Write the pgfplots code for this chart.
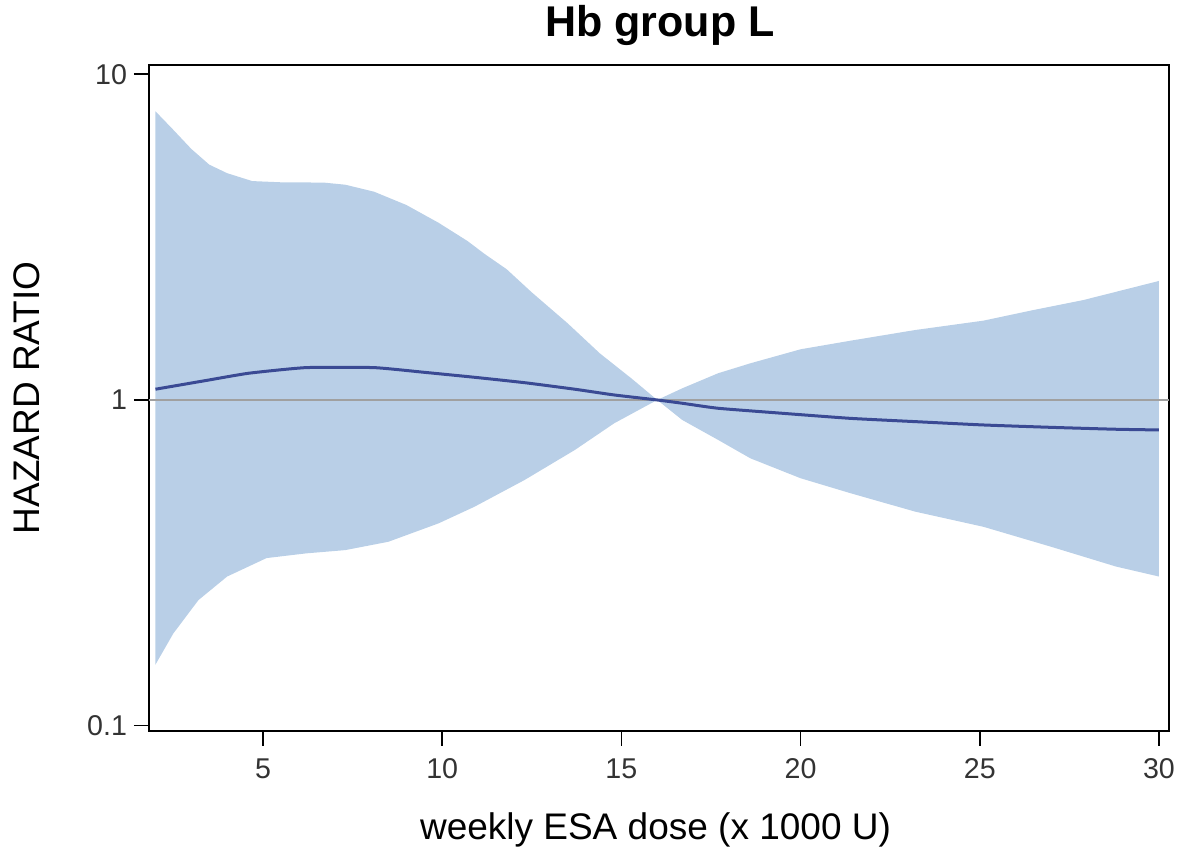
\documentclass[border=0pt]{standalone}
\usepackage{fontspec}
\setmainfont{Liberation Sans}
\usepackage{pgfplots}
\pgfplotsset{compat=1.18}
\usepgfplotslibrary{fillbetween}
\definecolor{bandcol}{HTML}{B9CFE7}
\definecolor{linecol}{HTML}{3A4A94}
\definecolor{refcol}{HTML}{A0A0A0}
\begin{document}
\begin{tikzpicture}
\begin{axis}[
  at={(0,0)}, anchor=south west,
  scale only axis, width=510pt, height=333pt,
  ymode=log,
  xmin=1.82, xmax=30.28, ymin=0.0963, ymax=10.68,
  xtick={5,10,15,20,25,30},
  ytick={0.1,1,10}, yticklabels={0.1,1,10},
  yminorticks=false,
  xtick pos=bottom, ytick pos=left,
  tick align=outside,
  major tick length=7.5pt,
  tick style={black, line width=0.8pt},
  axis line style={black, line width=0.8pt},
  /pgf/number format/assume math mode=true,
  tick label style={font=\fontsize{14.3}{17}\selectfont, text=black!80},
  xticklabel style={inner xsep=0pt, yshift=-3pt},
  label style={font=\fontsize{18.5}{22}\selectfont, inner sep=0pt},
  xlabel={weekly ESA dose (x 1000 U)},
  ylabel={HAZARD RATIO},
  xlabel style={at={(axis description cs:0.4966,-0.1486)}, anchor=center},
  ylabel style={at={(axis description cs:-0.1196,0.5)}, anchor=center},
  every axis title shift=0pt,
  title={Hb group L},
  title style={at={(axis description cs:0.501,1.060)}, anchor=center, inner sep=0pt, font=\fontsize{21.5}{25}\selectfont\bfseries},
]
\addplot[name path=upper, draw=none] coordinates {
(2.0,7.70) (2.5,6.75) (3.0,5.90) (3.5,5.28) (4.0,4.97) (4.7,4.70) (5.5,4.66)
(6.7,4.65) (7.3,4.58) (8.1,4.36) (9.0,3.97) (9.9,3.50) (10.7,3.08) (11.2,2.80)
(11.8,2.52) (12.5,2.14) (13.5,1.72) (14.4,1.39) (15.3,1.16) (16.0,1.0)
(16.7,1.086) (17.7,1.208) (18.6,1.296) (20.0,1.431) (21.4,1.521) (23.2,1.640)
(25.1,1.752) (26.5,1.889) (27.9,2.028) (29.3,2.218) (30.0,2.32)
};
\addplot[name path=lower, draw=none] coordinates {
(2.0,0.154) (2.5,0.192) (3.2,0.243) (4.0,0.287) (5.1,0.327) (6.2,0.338)
(7.3,0.346) (8.5,0.367) (9.9,0.418) (10.9,0.470) (12.3,0.568) (13.7,0.702)
(14.8,0.848) (16.0,1.0) (16.7,0.868) (17.7,0.754) (18.6,0.662) (20.0,0.575)
(21.4,0.517) (23.2,0.454) (25.1,0.408) (27.0,0.354) (28.8,0.308) (30.0,0.287)
};
\addplot[fill=bandcol, draw=none] fill between[of=upper and lower];
\addplot[refcol, line width=0.8pt] coordinates {(1.82,1) (30.28,1)};
\addplot[linecol, line width=1.5pt, smooth, tension=0.3] coordinates {
(2.0,1.079) (3.4,1.147) (4.6,1.208) (6.2,1.257) (8.1,1.257) (9.5,1.216)
(10.9,1.174) (12.3,1.130) (13.7,1.079) (14.8,1.036) (16.0,1.0) (16.7,0.977)
(17.7,0.943) (19.5,0.910) (21.4,0.878) (23.2,0.858) (25.1,0.838) (27.0,0.824)
(28.8,0.813) (30.0,0.809)
};
\end{axis}
\path (-74.5pt,-61.5pt) rectangle (514pt,365.5pt);
\end{tikzpicture}
\end{document}
